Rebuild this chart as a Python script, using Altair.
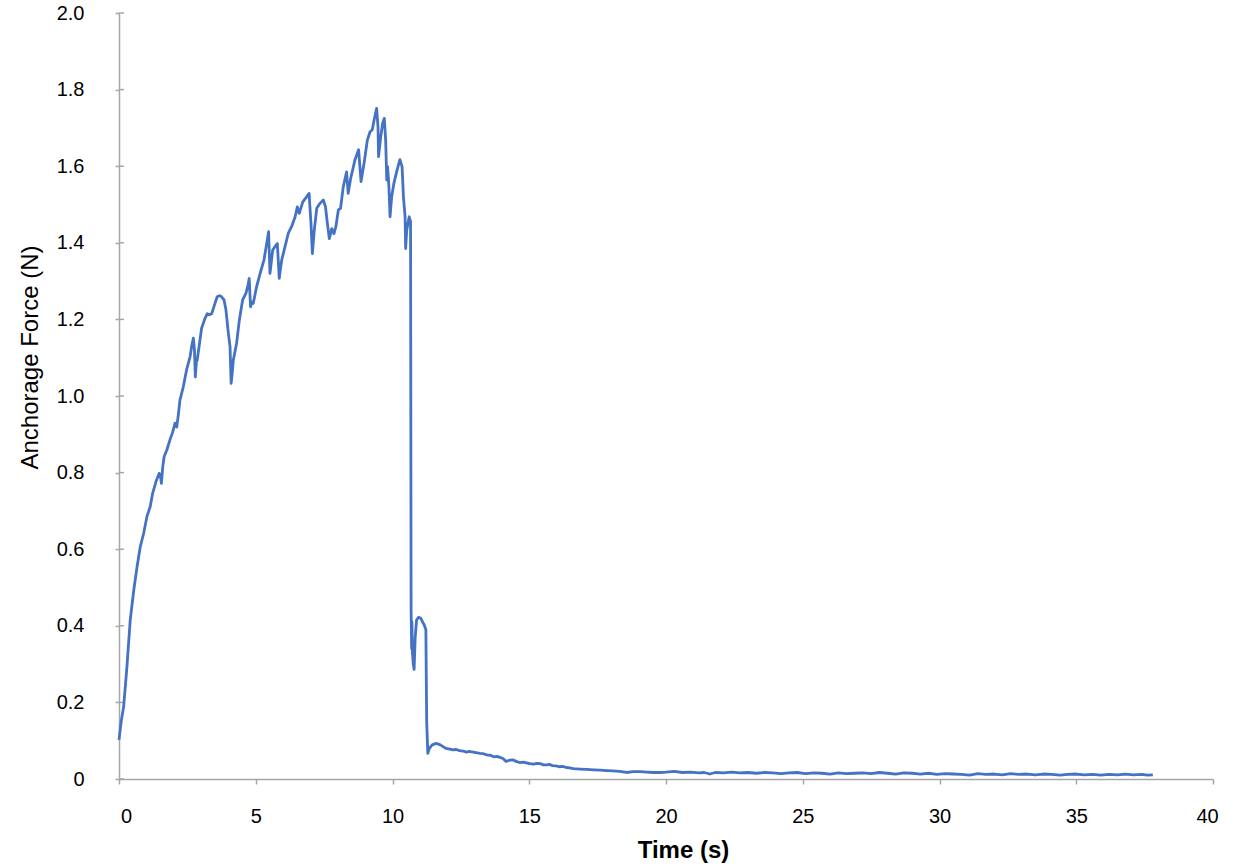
import altair as alt
import pandas as pd

# Loading phase: force builds up with repeated slip events until ~10.7 s
rise_time = [
    0.00, 0.08, 0.17, 0.29, 0.41, 0.54, 0.66, 0.78, 0.90, 1.02, 1.14, 1.23, 1.35,
    1.47, 1.52, 1.55, 1.60, 1.65, 1.75, 1.86, 1.96, 2.05, 2.11, 2.16, 2.23, 2.35,
    2.47, 2.60, 2.67, 2.72, 2.76, 2.79, 2.83, 2.86, 2.96, 3.02, 3.14, 3.23, 3.30,
    3.39, 3.51, 3.59, 3.68, 3.75, 3.84, 3.91, 4.00, 4.06, 4.10, 4.14, 4.18, 4.30,
    4.40, 4.52, 4.64, 4.72, 4.76, 4.81, 4.86, 4.91, 5.03, 5.16, 5.30, 5.42, 5.47,
    5.52, 5.57, 5.62, 5.70, 5.79, 5.86, 5.90, 5.95, 6.07, 6.19, 6.31, 6.44, 6.52,
    6.59, 6.72, 6.86, 6.95, 7.02, 7.07, 7.14, 7.23, 7.35, 7.47, 7.55, 7.62, 7.69,
    7.78, 7.86, 7.93, 8.02, 8.10, 8.20, 8.32, 8.38, 8.47, 8.63, 8.76, 8.85, 8.97,
    9.08, 9.18, 9.26, 9.33, 9.42, 9.47, 9.49, 9.57, 9.64, 9.70, 9.75, 9.79, 9.82,
    9.87, 9.91, 9.97, 10.05, 10.15, 10.27, 10.35, 10.40, 10.46, 10.48, 10.52,
    10.61, 10.66,
]
rise_force = [
    0.102, 0.150, 0.189, 0.293, 0.415, 0.493, 0.554, 0.607, 0.641, 0.685, 0.711,
    0.746, 0.776, 0.798, 0.790, 0.772, 0.815, 0.842, 0.859, 0.885, 0.905, 0.929,
    0.919, 0.945, 0.990, 1.024, 1.068, 1.103, 1.135, 1.151, 1.120, 1.050, 1.090,
    1.094, 1.146, 1.177, 1.202, 1.215, 1.212, 1.215, 1.242, 1.259, 1.262, 1.259,
    1.251, 1.225, 1.163, 1.129, 1.033, 1.060, 1.094, 1.138, 1.198, 1.251, 1.268,
    1.290, 1.307, 1.233, 1.245, 1.242, 1.285, 1.320, 1.355, 1.407, 1.429, 1.320,
    1.350, 1.381, 1.390, 1.398, 1.307, 1.330, 1.355, 1.390, 1.425, 1.442, 1.468,
    1.494, 1.477, 1.507, 1.520, 1.529, 1.450, 1.372, 1.433, 1.490, 1.503, 1.512,
    1.494, 1.450, 1.411, 1.437, 1.424, 1.442, 1.486, 1.490, 1.546, 1.585, 1.529,
    1.568, 1.617, 1.643, 1.560, 1.612, 1.668, 1.690, 1.695, 1.721, 1.751, 1.703,
    1.625, 1.677, 1.712, 1.725, 1.668, 1.564, 1.599, 1.546, 1.468, 1.520, 1.555,
    1.585, 1.617, 1.599, 1.520, 1.468, 1.385, 1.433, 1.468, 1.455,
]

# Failure: sudden drop, short plateau, second release
drop_time = [
    10.68, 10.70, 10.71, 10.73, 10.76, 10.79, 10.83, 10.88, 10.95, 11.03, 11.10,
    11.16, 11.22, 11.25, 11.29, 11.35, 11.45, 11.60, 11.75, 11.95, 12.10, 12.20,
    12.33, 12.45, 12.58, 12.70, 12.80, 12.90, 13.05, 13.20, 13.32, 13.45, 13.58,
    13.70, 13.82, 13.95, 14.05, 14.15, 14.28, 14.40, 14.52, 14.65, 14.78, 14.90,
    15.02, 15.15, 15.28, 15.40, 15.52, 15.65, 15.75, 15.85, 15.98, 16.10, 16.22,
    16.35, 16.48, 16.61, 16.85, 17.10, 17.35, 17.59, 17.83, 18.05, 18.30, 18.56,
    18.80, 19.05, 19.30, 19.54, 19.78,
]
drop_force = [
    0.440, 0.340, 0.410, 0.330, 0.300, 0.286, 0.370, 0.415, 0.422, 0.420, 0.410,
    0.402, 0.390, 0.150, 0.067, 0.080, 0.089, 0.093, 0.089, 0.080, 0.078, 0.076,
    0.077, 0.074, 0.073, 0.070, 0.072, 0.071, 0.069, 0.067, 0.066, 0.063, 0.062,
    0.058, 0.059, 0.056, 0.053, 0.046, 0.049, 0.050, 0.046, 0.043, 0.044, 0.042,
    0.040, 0.039, 0.041, 0.040, 0.037, 0.037, 0.038, 0.035, 0.034, 0.032, 0.033,
    0.030, 0.029, 0.027, 0.026, 0.025, 0.024, 0.023, 0.022, 0.021, 0.020, 0.017,
    0.019, 0.019, 0.018, 0.017, 0.017,
]

# Residual force after pull-out
tail_time = [
    20.0, 20.3, 20.6, 20.9, 21.2, 21.4, 21.6, 21.8, 22.1, 22.4, 22.7, 23.0, 23.3,
    23.6, 23.9, 24.2, 24.5, 24.8, 25.1, 25.4, 25.7, 26.0, 26.3, 26.6, 26.9, 27.2,
    27.5, 27.8, 28.1, 28.4, 28.7, 29.0, 29.3, 29.6, 29.9, 30.2, 30.5, 30.8, 31.1,
    31.4, 31.7, 32.0, 32.3, 32.6, 32.9, 33.2, 33.5, 33.8, 34.1, 34.4, 34.7, 35.0,
    35.3, 35.6, 35.9, 36.2, 36.5, 36.8, 37.1, 37.4, 37.6, 37.8,
]
tail_force = [
    0.018, 0.020, 0.017, 0.018, 0.016, 0.017, 0.013, 0.017, 0.016, 0.018, 0.016,
    0.017, 0.015, 0.017, 0.016, 0.014, 0.016, 0.017, 0.014, 0.016, 0.015, 0.013,
    0.016, 0.014, 0.015, 0.016, 0.014, 0.017, 0.015, 0.013, 0.016, 0.015, 0.013,
    0.015, 0.012, 0.014, 0.013, 0.012, 0.010, 0.014, 0.012, 0.013, 0.011, 0.014,
    0.012, 0.013, 0.011, 0.013, 0.012, 0.010, 0.012, 0.013, 0.011, 0.012, 0.010,
    0.012, 0.011, 0.013, 0.011, 0.012, 0.010, 0.011,
]

x_ticks = [0, 5, 10, 15, 20, 25, 30, 35, 40]
y_ticks = [0, 0.2, 0.4, 0.6, 0.8, 1.0, 1.2, 1.4, 1.6, 1.8, 2.0]

times = rise_time + drop_time + tail_time
forces = rise_force + drop_force + tail_force
df = pd.DataFrame({"t": times, "f": forces, "i": range(len(times))})
ticks_df = pd.DataFrame({"v": y_ticks})

AXIS_GREY = "#a6a6a6"
FONT = "Liberation Sans"

x_scale = alt.Scale(domain=[0, 40], nice=False, zero=False)
y_scale = alt.Scale(domain=[0, 2.0], nice=False)

line = alt.Chart(df).mark_line(color="#4472C4", strokeWidth=2.8, strokeJoin="round").encode(
    x=alt.X(
        "t:Q",
        scale=x_scale,
        axis=alt.Axis(
            title="Time (s)",
            values=x_ticks,
            grid=False,
            domainColor=AXIS_GREY,
            domainWidth=1.5,
            tickColor=AXIS_GREY,
            tickWidth=1.5,
            tickSize=5,
            labelPadding=22,
            labelFontSize=20,
            labelFont=FONT,
            labelColor="#000000",
            labelFlush=False,
            labelOffset={
                "condition": [
                    {"test": "datum.value == 0", "value": 7},
                    {"test": "datum.value == 40", "value": -6},
                ],
                "value": 0,
            },
            titleFont=FONT,
            titleFontSize=24,
            titleFontWeight="bold",
            titleColor="#000000",
            titleX=564,
            titleY=71,
            titleBaseline="middle",
            titleAlign="center",
        ),
    ),
    y=alt.Y(
        "f:Q",
        scale=y_scale,
        axis=alt.Axis(
            title="Anchorage Force (N)",
            values=y_ticks,
            labelExpr="datum.value == 0 ? '0' : format(datum.value, '.1f')",
            grid=False,
            domainColor=AXIS_GREY,
            domainWidth=1.5,
            tickColor=AXIS_GREY,
            tickWidth=1.5,
            tickSize=4,
            labelPadding=31,
            labelFontSize=20,
            labelFont=FONT,
            labelColor="#000000",
            titleFont=FONT,
            titleFontSize=24,
            titleFontWeight="normal",
            titleColor="#000000",
            titleX=-89,
            titleY=344,
            titleBaseline="middle",
            titleAlign="center",
            titleAngle=270,
        ),
    ),
    order="i:Q",
)

# inner half of the y-axis tick marks
inner_ticks = alt.Chart(ticks_df).mark_rule(color=AXIS_GREY, strokeWidth=1.5).encode(
    y=alt.Y("v:Q", scale=y_scale),
    x=alt.value(0),
    x2=alt.value(5),
)

chart = (
    alt.layer(inner_ticks, line)
    .properties(
        width=1094,
        height=766,
        autosize=alt.AutoSizeParams(type="none"),
        padding={"left": 119, "top": 13, "right": 20, "bottom": 88},
        background="white",
    )
    .configure_view(stroke=None)
)

chart.save("out.html", embed_options={"renderer": "svg", "actions": False})
